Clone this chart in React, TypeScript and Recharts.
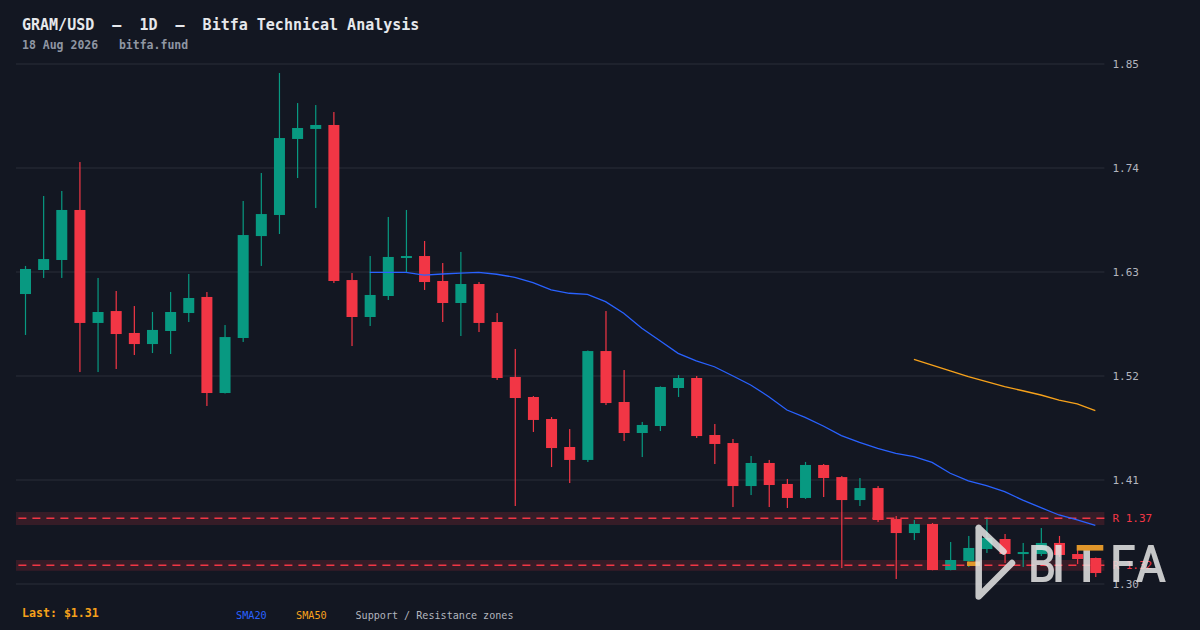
import React from "react";
import {
  ComposedChart,
  Bar,
  Line,
  XAxis,
  YAxis,
  CartesianGrid,
  ReferenceArea,
  ReferenceLine,
} from "recharts";

const MONO = '"DejaVu Sans Mono", "Liberation Mono", monospace';
const BG = "#131722";
const UP = "#089981";
const DOWN = "#f23645";
const GRID = "#2a2e39";
const SMA20_C = "#2962ff";
const SMA50_C = "#f7a21b";
const AXIS_TEXT = "#b2b5be";

// daily candles, oldest first
const opens = [
  1.6067, 1.6321, 1.6427, 1.6956, 1.5761, 1.5887, 1.5655, 1.5538, 1.5676, 1.5866,
  1.6036, 1.502, 1.5602, 1.668, 1.6903, 1.7707, 1.7813, 1.7855, 1.6215, 1.5824,
  1.6046, 1.6459, 1.6469, 1.6205, 1.5972, 1.6173, 1.5771, 1.519, 1.4978, 1.4745,
  1.4449, 1.4312, 1.5464, 1.4925, 1.4597, 1.4671, 1.5073, 1.5179, 1.4576, 1.4491,
  1.4036, 1.428, 1.4058, 1.391, 1.4259, 1.4131, 1.3888, 1.4015, 1.3687, 1.3539,
  1.3635, 1.3148, 1.3243, 1.337, 1.3476, 1.3317, 1.3317, 1.3434, 1.3317, 1.3275,
];
const highs = [
  1.6364, 1.7104, 1.7157, 1.7463, 1.6237, 1.6099, 1.594, 1.5877, 1.6088, 1.6279,
  1.6088, 1.5739, 1.7051, 1.7347, 1.8405, 1.8087, 1.8066, 1.7992, 1.6289, 1.6469,
  1.6882, 1.6956, 1.6628, 1.6395, 1.6512, 1.6194, 1.5866, 1.5486, 1.4988, 1.4766,
  1.4639, 1.547, 1.5887, 1.5263, 1.4714, 1.509, 1.521, 1.52, 1.4692, 1.4534,
  1.4354, 1.4312, 1.4111, 1.4291, 1.4269, 1.4142, 1.4121, 1.4036, 1.3719, 1.3677,
  1.3645, 1.3444, 1.3508, 1.3709, 1.3529, 1.3434, 1.3592, 1.3508, 1.337, 1.328,
];
const lows = [
  1.5634, 1.6237, 1.6237, 1.5242, 1.5242, 1.5274, 1.5422, 1.5443, 1.5433, 1.5771,
  1.4883, 1.5015, 1.556, 1.6364, 1.6702, 1.7294, 1.6977, 1.6184, 1.5517, 1.5729,
  1.6004, 1.63, 1.611, 1.5771, 1.5623, 1.5665, 1.5158, 1.3825, 1.4608, 1.4237,
  1.4068, 1.4291, 1.4893, 1.4512, 1.4343, 1.4618, 1.4978, 1.4544, 1.4269, 1.3814,
  1.3941, 1.3814, 1.3804, 1.39, 1.392, 1.3169, 1.3825, 1.3656, 1.3053, 1.3465,
  1.3145, 1.3145, 1.318, 1.3328, 1.3222, 1.318, 1.3296, 1.3286, 1.3211, 1.3074,
];
const closes = [
  1.6332, 1.6437, 1.6956, 1.5761, 1.5877, 1.5644, 1.5538, 1.5687, 1.5877, 1.6025,
  1.502, 1.5612, 1.6691, 1.6913, 1.7717, 1.7823, 1.7855, 1.6205, 1.5824, 1.6057,
  1.6459, 1.6469, 1.6194, 1.5972, 1.6173, 1.5761, 1.5179, 1.4967, 1.4735, 1.4438,
  1.4312, 1.5464, 1.4914, 1.4597, 1.4682, 1.5084, 1.5179, 1.4565, 1.4481, 1.4036,
  1.428, 1.4047, 1.391, 1.4259, 1.4121, 1.3888, 1.4015, 1.3677, 1.3539, 1.3635,
  1.3148, 1.3254, 1.3381, 1.3487, 1.3317, 1.3338, 1.3434, 1.3307, 1.3264, 1.3116,
];

// moving averages, first value sits on candle index 19 / 49
const SMA20_START = 19;
const sma20Values = [
  1.6297, 1.6297, 1.6297, 1.6268, 1.6279, 1.6289, 1.6297, 1.6276, 1.6244, 1.6187,
  1.611, 1.6075, 1.6064, 1.5986, 1.5863, 1.5704, 1.5573, 1.544, 1.5359, 1.5298,
  1.5203, 1.5105, 1.4981, 1.484, 1.4763, 1.4671, 1.4569, 1.4499, 1.4435, 1.4382,
  1.4347, 1.4287, 1.4171, 1.409, 1.404, 1.3976, 1.3888, 1.3807, 1.373, 1.3677,
  1.3621,
];
const SMA50_START = 49;
const sma50Values = [
  1.5377, 1.5316, 1.5253, 1.5193, 1.514, 1.5087, 1.5044, 1.4999, 1.4946, 1.4904,
  1.4833,
];

const yTicks = [1.3, 1.41, 1.52, 1.63, 1.74, 1.85];

// support / resistance zones
const zoneLabels = ["R 1.37", "R 1.32"];
const zoneLevels = [1.3695, 1.3197];
const zoneLows = [1.3624, 1.3141];
const zoneHighs = [1.3762, 1.3254];

const rows = opens.map((open, i) => ({
  day: i + 1,
  open,
  high: highs[i],
  low: lows[i],
  close: closes[i],
  sma20: i >= SMA20_START ? sma20Values[i - SMA20_START] : null,
  sma50: i >= SMA50_START ? sma50Values[i - SMA50_START] : null,
}));

function Candle(props: any) {
  const { x, y, width, height, payload } = props;
  if (x == null || !payload) return null;
  const { open, close, high, low } = payload;
  const top = Math.min(y, y + height);
  const h = Math.abs(height);
  const perUnit = h / (high - low);
  const color = close >= open ? UP : DOWN;
  const bodyTop = top + (high - Math.max(open, close)) * perUnit;
  const bodyH = Math.max(2, Math.abs(close - open) * perUnit);
  const cx = x + width / 2;
  return (
    <g>
      <rect x={cx - 0.6} y={top} width={1.2} height={h} fill={color} />
      <rect x={x} y={bodyTop} width={width} height={bodyH} fill={color} />
    </g>
  );
}

function Overlay() {
  const logo = "#e4e4e4";
  return (
    <svg
      width={1200}
      height={630}
      style={{ position: "absolute", left: 0, top: 0, pointerEvents: "none" }}
    >
      <g fontFamily={MONO} style={{ whiteSpace: "pre" }}>
        <text x={22} y={29.5} fontSize={15} fontWeight="bold" fill="#e6e8ec" xmlSpace="preserve">
          GRAM/USD  —  1D  —  Bitfa Technical Analysis
        </text>
        <text x={22} y={49} fontSize={11.5} fontWeight="bold" fill="#8f96a3" xmlSpace="preserve">
          18 Aug 2026   bitfa.fund
        </text>
        <text x={22} y={617} fontSize={11.6} fontWeight="bold" fill={SMA50_C} xmlSpace="preserve">
          Last: $1.31
        </text>
        <text x={236} y={619} fontSize={10.2} fill={SMA20_C}>SMA20</text>
        <text x={296} y={619} fontSize={10.2} fill={SMA50_C}>SMA50</text>
        <text x={355.5} y={619} fontSize={10.1} fill={AXIS_TEXT} xmlSpace="preserve">
          Support / Resistance zones
        </text>
      </g>

      {/* watermark */}
      <rect x={967} y={561.5} width={13} height={4.5} fill="#e0962a" />
      <g opacity={0.86}>
        <path
          d="M978.7 528 L978.7 596.5 L1012 563 M978.7 528 L1003.5 551.5"
          fill="none"
          stroke={logo}
          strokeWidth={6.5}
          strokeLinecap="round"
          strokeLinejoin="round"
        />
        <g fontFamily="Roboto, 'Noto Sans', sans-serif" fontWeight={500} fontSize={52} fill={logo} textAnchor="middle">
          <text transform="translate(1042 582) scale(0.86 1)">B</text>
          <text transform="translate(1058.6 582) scale(0.95 1)">I</text>
          <text transform="translate(1123 582) scale(0.9 1)">F</text>
          <text transform="translate(1151 582) scale(0.88 1)">A</text>
        </g>
        <rect x={1083.4} y={549} width={6.6} height={33} fill={logo} />
      </g>
      <rect x={1076.7} y={545} width={26.6} height={5.6} fill="#e0962a" />
    </svg>
  );
}

export default function App() {
  return (
    <div
      style={{
        position: "absolute",
        left: 0,
        top: 0,
        width: 1200,
        height: 630,
        background: BG,
        overflow: "hidden",
      }}
    >
      <ComposedChart
        width={1200}
        height={630}
        data={rows}
        margin={{ top: 64, right: 0, bottom: 46, left: 16 }}
      >
        <CartesianGrid vertical={false} stroke={GRID} strokeWidth={1} />
        <XAxis dataKey="day" hide />
        <YAxis
          orientation="right"
          domain={[1.3, 1.85]}
          ticks={yTicks}
          width={95.6}
          axisLine={false}
          tickLine={false}
          tick={{ fill: AXIS_TEXT, fontSize: 11, fontFamily: MONO }}
          tickFormatter={(v: number) => v.toFixed(2)}
        />
        {zoneLabels.map((label, i) => (
          <ReferenceArea
            key={"za" + label}
            y1={zoneLows[i]}
            y2={zoneHighs[i]}
            fill={DOWN}
            fillOpacity={0.16}
            stroke="none"
          />
        ))}
        {zoneLabels.map((label, i) => (
          <ReferenceLine
            key={"zl" + label}
            y={zoneLevels[i]}
            stroke={DOWN}
            strokeWidth={1.5}
            strokeDasharray="8 6"
            label={{
              value: label,
              position: "right",
              offset: 8,
              fill: DOWN,
              fontSize: 11,
              fontFamily: MONO,
            }}
          />
        ))}
        <Bar
          dataKey={(d: any) => [d.low, d.high]}
          barSize={11}
          shape={(p: any) => <Candle {...p} />}
          isAnimationActive={false}
        />
        <Line
          dataKey="sma20"
          stroke={SMA20_C}
          strokeWidth={1.3}
          dot={false}
          activeDot={false}
          connectNulls={false}
          isAnimationActive={false}
        />
        <Line
          dataKey="sma50"
          stroke={SMA50_C}
          strokeWidth={1.3}
          dot={false}
          activeDot={false}
          connectNulls={false}
          isAnimationActive={false}
        />
      </ComposedChart>
      <Overlay />
    </div>
  );
}
